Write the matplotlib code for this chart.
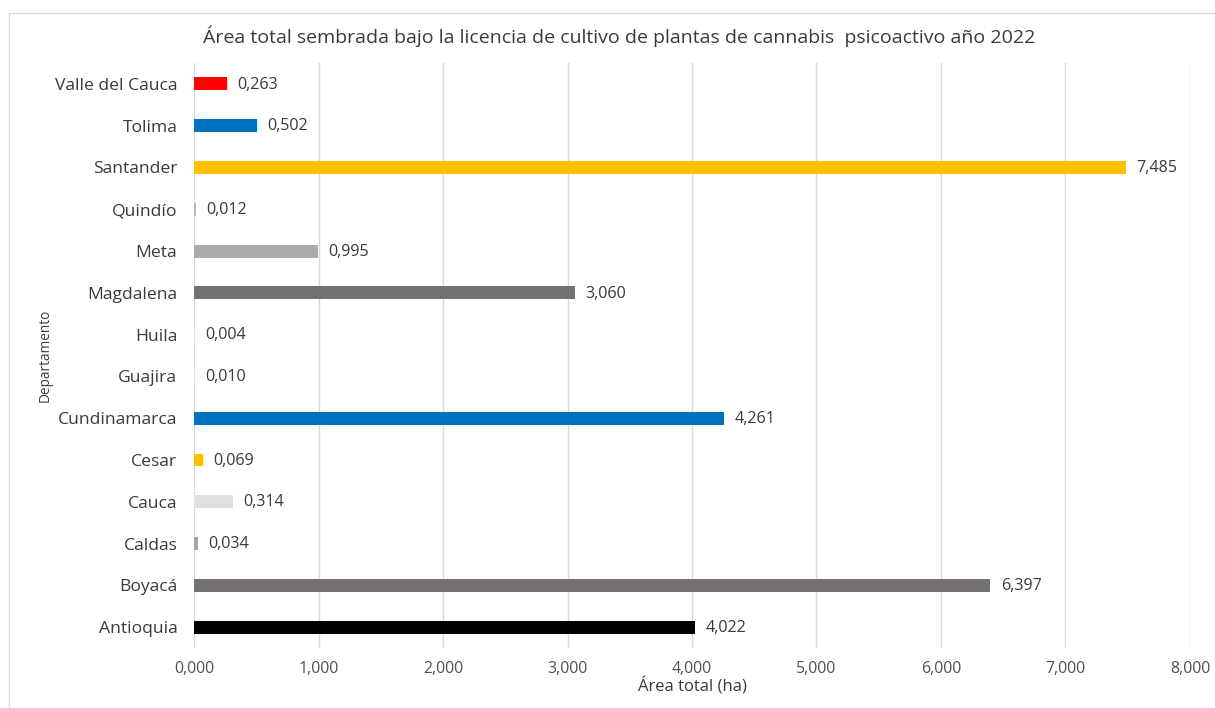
import matplotlib
matplotlib.use("Agg")
import matplotlib.pyplot as plt
from matplotlib.lines import Line2D

departamentos = ["Antioquia", "Boyacá", "Caldas", "Cauca", "Cesar", "Cundinamarca",
                 "Guajira", "Huila", "Magdalena", "Meta", "Quindío", "Santander",
                 "Tolima", "Valle del Cauca"]
area = [4.022, 6.397, 0.034, 0.314, 0.069, 4.261, 0.010, 0.004, 3.060, 0.995,
        0.012, 7.485, 0.502, 0.263]
colores = ["#000000", "#767171", "#A5A5A5", "#E0E0E0", "#FFC000", "#0070C0",
           "#E7E6E6", "#E7E6E6", "#767171", "#AEAAAA", "#9DC3E6", "#FFC000",
           "#0070C0", "#FF0000"]
xticks = [0, 1, 2, 3, 4, 5, 6, 7, 8]

plt.rcParams['font.family'] = ['Open Sans', 'DejaVu Sans']

fig = plt.figure(figsize=(12.15, 7.08), dpi=100)
ax = fig.add_axes([0.1597, 0.0847, 0.9794 - 0.1597, 0.911 - 0.0847])

y = list(range(len(departamentos)))
ax.barh(y, area, height=0.31, color=colores, zorder=3)

def fmt(v):
    return f"{v:.3f}".replace(".", ",")

for yi, v in zip(y, area):
    ax.annotate(fmt(v), (v, yi), xytext=(7.5, -0.5), textcoords="offset points",
                va="center", ha="left", fontsize=11.6, color="#3a3a3a")

ax.set_xlim(0, 8)
ax.set_ylim(-0.5, len(departamentos) - 0.5)
ax.set_xticks(xticks)
ax.set_xticklabels([fmt(t) for t in xticks], fontsize=11.4, color="#505050")
ax.set_yticks(y)
ax.set_yticklabels(departamentos, fontsize=12.6, color="#3a3a3a")
ax.tick_params(axis="x", length=0, pad=9)
ax.tick_params(axis="y", length=0, pad=12)
ax.grid(axis="x", color="#D9D9D9", linewidth=1, zorder=0)
for s in ax.spines.values():
    s.set_visible(False)

ax.set_xlabel("Área total (ha)", fontsize=12, color="#3a3a3a", labelpad=1)
ax.set_ylabel("Departamento", fontsize=9.8, color="#3a3a3a")
ax.yaxis.set_label_coords(-0.142, 0.5)

fig.text(0.51, 0.949, "Área total sembrada bajo la licencia de cultivo de plantas de cannabis  psicoactivo año 2022",
         ha="center", va="center", fontsize=14, color="#3a3a3a")

# outer chart frame
fig.add_artist(Line2D([9 / 1215, 1.0], [1 - 13 / 708, 1 - 13 / 708], color="#D9D9D9", linewidth=1))
fig.add_artist(Line2D([9 / 1215, 9 / 1215], [0, 1 - 13 / 708], color="#D9D9D9", linewidth=1))

fig.savefig("out.png", dpi=100)
